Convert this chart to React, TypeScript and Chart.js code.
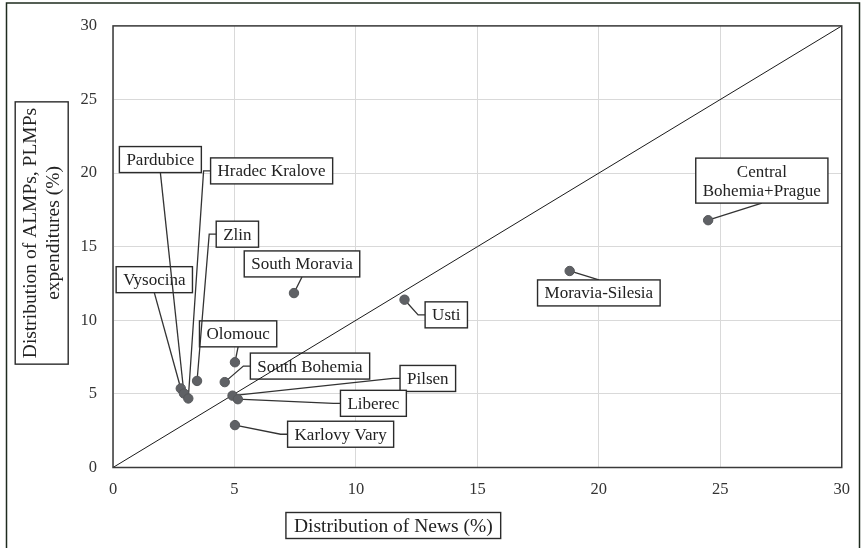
import React, { useEffect, useRef } from "react";
import { Chart, registerables } from "chart.js";

Chart.register(...registerables);

// ---------- data ----------
const regions = [
  "Central\nBohemia+Prague",
  "Moravia-Silesia",
  "Usti",
  "South Moravia",
  "Olomouc",
  "South Bohemia",
  "Pilsen",
  "Liberec",
  "Karlovy Vary",
  "Zlin",
  "Vysocina",
  "Pardubice",
  "Hradec Kralove",
];
const newsShare = [24.5, 18.8, 12.0, 7.45, 5.02, 4.6, 4.92, 5.14, 5.02, 3.46, 2.79, 2.92, 3.1];
const expenditureShare = [16.8, 13.35, 11.4, 11.85, 7.15, 5.8, 4.88, 4.64, 2.88, 5.88, 5.37, 5.03, 4.69];
const axisTicks = [0, 5, 10, 15, 20, 25, 30];
const diagonal = [0, 30];

const xTitle = "Distribution of News (%)";
const yTitle = ["Distribution of ALMPs, PLMPs", "expenditures (%)"];

// ---------- layout of the data-label boxes (centres, in axis units) ----------
const labelCenters: number[][] = [
  [26.71, 19.49],
  [20.0, 11.86],
  [13.72, 10.37],
  [7.78, 13.83],
  [5.15, 9.08],
  [8.11, 6.89],
  [12.96, 6.05],
  [10.72, 4.36],
  [9.37, 2.26],
  [5.12, 15.85],
  [1.7, 12.76],
  [1.95, 20.92],
  [6.53, 20.15],
];

const SERIF = '"Liberation Serif", "Times New Roman", serif';

const labelPlugin = {
  id: "regionLabels",
  beforeDatasetsDraw(chart: any) {
    const { ctx, scales } = chart;
    const xs = scales.x;
    const ys = scales.y;
    ctx.save();
    ctx.font = `17px ${SERIF}`;
    ctx.textAlign = "center";
    ctx.textBaseline = "middle";
    regions.forEach((name, i) => {
      const lines = name.split("\n");
      const lh = 19;
      const w = Math.max(...lines.map((l) => ctx.measureText(l).width)) + 14;
      const h = lines.length * lh + 7;
      const cx = xs.getPixelForValue(labelCenters[i][0]);
      const cy = ys.getPixelForValue(labelCenters[i][1]);
      const left = cx - w / 2;
      const top = cy - h / 2;
      const right = cx + w / 2;
      const bottom = cy + h / 2;
      const px = xs.getPixelForValue(newsShare[i]);
      const py = ys.getPixelForValue(expenditureShare[i]);
      // leader line
      ctx.beginPath();
      ctx.strokeStyle = "#333";
      ctx.lineWidth = 1.3;
      if (px < left) {
        ctx.moveTo(left, cy);
        ctx.lineTo(left - 7, cy);
        ctx.lineTo(px, py);
      } else if (px > right) {
        ctx.moveTo(right, cy);
        ctx.lineTo(right + 7, cy);
        ctx.lineTo(px, py);
      } else if (py > bottom) {
        ctx.moveTo(cx, bottom);
        ctx.lineTo(px, py);
      } else {
        ctx.moveTo(cx, top);
        ctx.lineTo(px, py);
      }
      ctx.stroke();
      // box
      ctx.fillStyle = "#fff";
      ctx.fillRect(left, top, w, h);
      ctx.lineWidth = 1.4;
      ctx.strokeStyle = "#2b2b2b";
      ctx.strokeRect(left, top, w, h);
      // text
      ctx.fillStyle = "#222";
      lines.forEach((l, k) => {
        ctx.fillText(l, cx, top + 3.5 + lh / 2 + k * lh + 1);
      });
    });
    ctx.restore();
  },
  afterDraw(chart: any) {
    const { ctx, chartArea } = chart;
    ctx.save();
    // plot frame
    ctx.strokeStyle = "#3a3a3a";
    ctx.lineWidth = 1.5;
    ctx.strokeRect(chartArea.left, chartArea.top, chartArea.right - chartArea.left, chartArea.bottom - chartArea.top);

    // x title
    ctx.font = `19.5px ${SERIF}`;
    ctx.fillStyle = "#222";
    ctx.textAlign = "center";
    ctx.textBaseline = "middle";
    const xw = ctx.measureText(xTitle).width + 16;
    const xcx = 393.3;
    const xcy = 525.5;
    ctx.fillText(xTitle, xcx, xcy + 1);
    ctx.lineWidth = 1.4;
    ctx.strokeStyle = "#2b2b2b";
    ctx.strokeRect(xcx - xw / 2, xcy - 13, xw, 26);

    // y title
    const yw = Math.max(...yTitle.map((l) => ctx.measureText(l).width)) + 12;
    const ycx = 41.7;
    const ycy = 233;
    ctx.save();
    ctx.translate(ycx, ycy);
    ctx.rotate(-Math.PI / 2);
    ctx.fillText(yTitle[0], 0, -11.5 + 1);
    ctx.fillText(yTitle[1], 0, 11.5 + 1);
    ctx.strokeRect(-yw / 2, -26.5, yw, 53);
    ctx.restore();

    // outer frame
    ctx.strokeStyle = "#1e2b1e";
    ctx.lineWidth = 1.5;
    ctx.beginPath();
    ctx.moveTo(6.5, 548);
    ctx.lineTo(6.5, 3);
    ctx.lineTo(859.5, 3);
    ctx.lineTo(859.5, 548);
    ctx.stroke();
    ctx.restore();
  },
};

export default function App() {
  const ref = useRef<HTMLCanvasElement>(null);
  useEffect(() => {
    document.body.style.margin = "0";
    const canvas = ref.current;
    if (!canvas) return;
    const tickFont = { family: SERIF, size: 16.5 };
    const chart = new Chart(canvas, {
      type: "scatter",
      data: {
        datasets: [
          {
            label: "Regions",
            data: newsShare.map((v, i) => ({ x: v, y: expenditureShare[i] })),
            pointRadius: 4.7,
            pointHoverRadius: 4.7,
            backgroundColor: "#5f6165",
            borderColor: "#55575a",
            borderWidth: 1,
          },
          {
            label: "Equal share",
            type: "line",
            data: diagonal.map((v) => ({ x: v, y: v })),
            borderColor: "#1a1a1a",
            borderWidth: 1,
            pointRadius: 0,
            showLine: true,
            fill: false,
          } as any,
        ],
      },
      options: {
        responsive: false,
        animation: false,
        devicePixelRatio: 1,
        layout: { padding: { top: 25, right: 20, left: 0, bottom: 0 } },
        plugins: { legend: { display: false }, tooltip: { enabled: false } },
        scales: {
          x: {
            type: "linear",
            min: axisTicks[0],
            max: axisTicks[axisTicks.length - 1],
            afterBuildTicks: (s: any) => {
              s.ticks = axisTicks.map((v) => ({ value: v }));
            },
            ticks: { font: tickFont, color: "#333", padding: 12 },
            grid: { color: "#d9d9d9", drawTicks: false, lineWidth: 1 },
            border: { display: false },
            afterFit: (s: any) => {
              s.height = 80.5;
            },
          },
          y: {
            type: "linear",
            min: axisTicks[0],
            max: axisTicks[axisTicks.length - 1],
            afterBuildTicks: (s: any) => {
              s.ticks = axisTicks.map((v) => ({ value: v }));
            },
            ticks: { font: tickFont, color: "#333", padding: 16 },
            grid: { color: "#d9d9d9", drawTicks: false, lineWidth: 1 },
            border: { display: false },
            afterFit: (s: any) => {
              s.width = 113;
            },
          },
        },
      },
      plugins: [labelPlugin],
    });
    return () => chart.destroy();
  }, []);
  return (
    <div style={{ width: 862, height: 548 }}>
      <canvas ref={ref} width={862} height={548} style={{ display: "block" }} />
    </div>
  );
}
